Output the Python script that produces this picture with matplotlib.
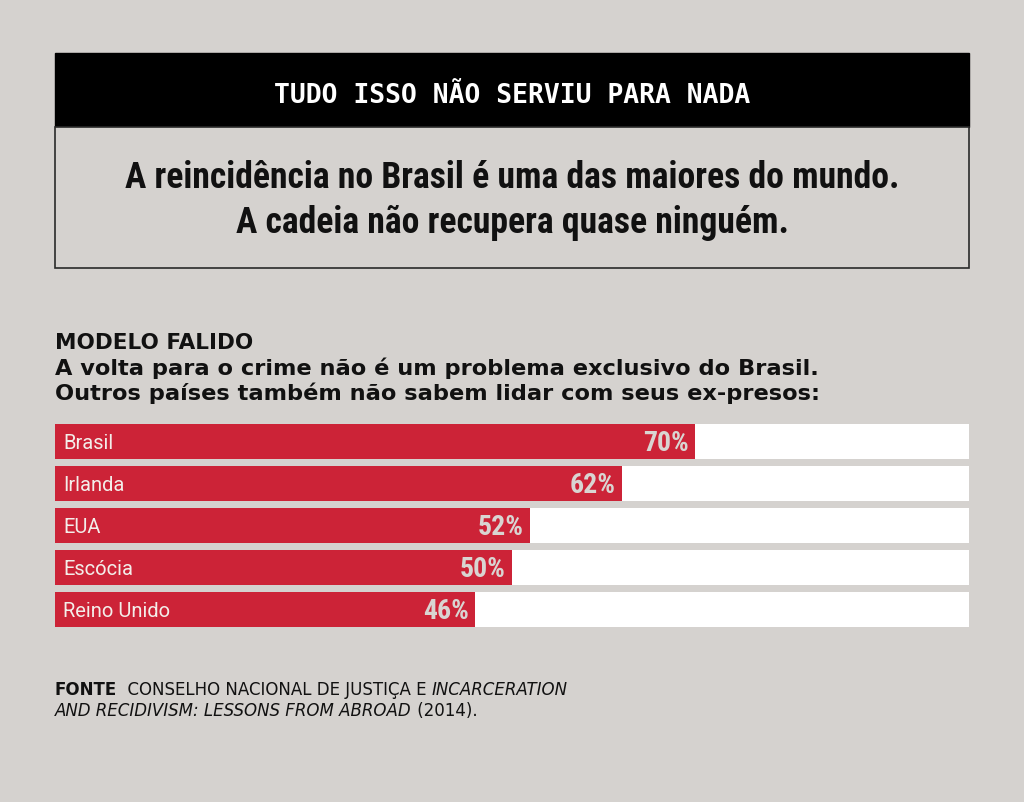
import matplotlib
matplotlib.use("Agg")
import matplotlib.pyplot as plt
from matplotlib import font_manager as fm
from matplotlib.patches import Rectangle

# dados
paises = ["Brasil", "Irlanda", "EUA", "Escócia", "Reino Unido"]
reincidencia = [70, 62, 52, 50, 46]

titulo = "TUDO ISSO NÃO SERVIU PARA NADA"
manchete = ["A reincidência no Brasil é uma das maiores do mundo.",
            "A cadeia não recupera quase ninguém."]
rotulo = "MODELO FALIDO"
subtitulo = ["A volta para o crime não é um problema exclusivo do Brasil.",
             "Outros países também não sabem lidar com seus ex-presos:"]

BG = "#d5d2cf"
RED = "#cc2337"
INK = "#111111"


def pick(names):
    for n in names:
        try:
            fm.findfont(fm.FontProperties(family=n), fallback_to_default=False)
            return n
        except ValueError:
            pass
    return "DejaVu Sans"


COND = pick(["Roboto Condensed", "Liberation Sans Narrow", "DejaVu Sans Condensed"])

fig = plt.figure(figsize=(10.24, 8.03), dpi=100, facecolor=BG)

# camada de fundo em pixels
bg = fig.add_axes([0, 0, 1, 1])
bg.set_xlim(0, 1024)
bg.set_ylim(803, 0)
bg.axis("off")

bg.add_patch(Rectangle((55, 54), 914, 74, facecolor="black", edgecolor="black", lw=1))
bg.add_patch(Rectangle((55, 128), 914, 141, facecolor=BG, edgecolor="#2a2a2a", lw=1.2))
bg.text(512, 103, titulo, color="white", ha="center", va="baseline",
        family="DejaVu Sans Mono", weight="bold", size=19)
bg.text(512, 188, manchete[0], ha="center", va="baseline", family=COND,
        weight="bold", size=25.7, color=INK)
bg.text(512, 233, manchete[1], ha="center", va="baseline", family=COND,
        weight="bold", size=25.7, color=INK)

bg.text(55, 349, rotulo, ha="left", va="baseline", family="DejaVu Sans",
        weight="bold", size=15.5, color=INK)
bg.text(55, 375, subtitulo[0], ha="left", va="baseline", family="DejaVu Sans",
        weight="bold", size=16.2, color=INK)
bg.text(55, 400, subtitulo[1], ha="left", va="baseline", family="DejaVu Sans",
        weight="bold", size=16.2, color=INK)

# fonte
fs = 12
t1 = bg.text(55, 695, "FONTE", ha="left", va="baseline", family="DejaVu Sans",
             weight="bold", size=fs, color=INK)
t2 = bg.annotate("  CONSELHO NACIONAL DE JUSTIÇA E ", xy=(1, 0), xycoords=t1,
                 va="bottom", ha="left", family="DejaVu Sans", size=fs,
                 color=INK)
bg.annotate("INCARCERATION", xy=(1, 0), xycoords=t2, va="bottom", ha="left",
            family="DejaVu Sans", style="italic", size=fs, color=INK)
t4 = bg.text(55, 716, "AND RECIDIVISM: LESSONS FROM ABROAD", ha="left",
             va="baseline", family="DejaVu Sans", style="italic", size=fs,
             color=INK)
bg.annotate(" (2014).", xy=(1, 0), xycoords=t4, va="bottom", ha="left",
            family="DejaVu Sans", size=fs, color=INK)

# grafico de barras
top, bottom = 421.5, 631.5
ax = fig.add_axes([55 / 1024, (803 - bottom) / 803, 914 / 1024, (bottom - top) / 803])
ax.set_xlim(0, 100)
ax.set_ylim(len(paises) - 0.5, -0.5)
ax.axis("off")
ypos = list(range(len(paises)))
ax.barh(ypos, [100] * len(paises), height=35 / 42, color="white", edgecolor="none")
ax.barh(ypos, reincidencia, height=35 / 42, color=RED, edgecolor="none")
for y, nome, v in zip(ypos, paises, reincidencia):
    ax.text(0.9, y + 0.03, nome, ha="left", va="center", family="Roboto",
            size=14.5, color="#f3eeea")
    ax.text(v - 0.7, y + 0.03, f"{v}%", ha="right", va="center", family=COND,
            weight="bold", size=20, color="#d9d5d2")

fig.savefig("out.png", dpi=100, facecolor=BG)
